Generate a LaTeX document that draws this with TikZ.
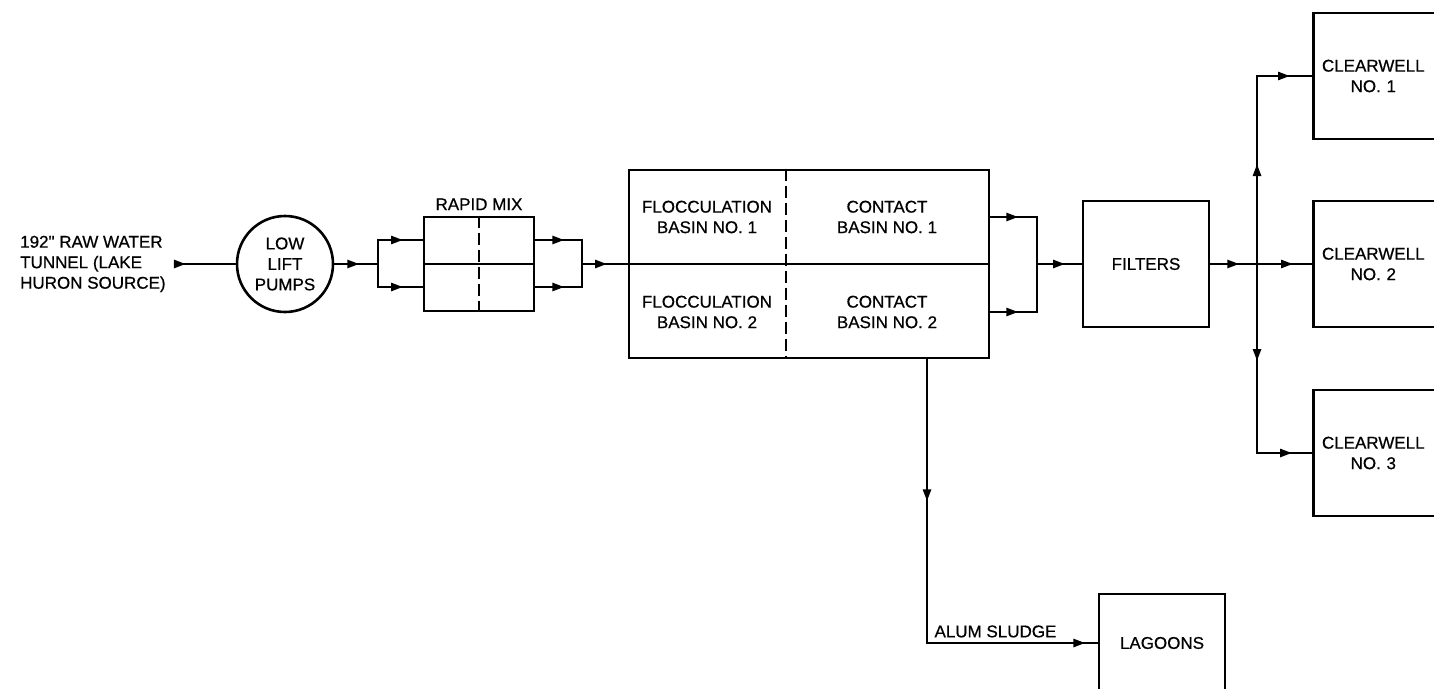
\documentclass[tikz,border=0pt]{standalone}
\usepackage{fontspec}
\setmainfont{Liberation Sans}[Ligatures=TeXOff, FakeBold=0.6]
\usetikzlibrary{arrows.meta, positioning, decorations.markings}

\tikzset{
  flowtip/.tip={Triangle[length=12pt, width=8pt]},
  unit/.style={draw, line width=2.6pt, inner sep=0pt, align=center},
  wellbox/.style={draw, line width=2.6pt, minimum height=126pt, text width=150pt, inner xsep=0pt, align=left, anchor=west},
  divider/.style={line width=2.6pt},
  dashline/.style={line width=2.2pt, dash pattern=on 12pt off 5pt},
  flow/.style={line width=2.6pt, postaction={decorate},
    decoration={markings, mark=at position #1 with {\arrow{flowtip}}}},
  twoflow/.style 2 args={line width=2.6pt, postaction={decorate},
    decoration={markings, mark=at position #1 with {\arrow{flowtip}},
      mark=at position #2 with {\arrow{flowtip}}}},
}

\begin{document}
\begin{tikzpicture}[x=1pt, y=-1pt, font=\fontsize{17}{20.5}\selectfont]
    \useasboundingbox (0,0) rectangle (1434,688);
    \clip (0,0) rectangle (1434,688);

    \node[anchor=west, align=left, inner xsep=8pt] (tunnel) at (12,264) {192" RAW WATER\\TUNNEL (LAKE\\HURON SOURCE)};
    \node[unit, circle, minimum size=96pt] (pumps) at (285,264) {LOW\\LIFT\\PUMPS};
    \node[unit, minimum width=110pt, minimum height=94pt] (mix) at (479,264) {};
    \node[above=2pt of mix] (mixlabel) {RAPID MIX};
    \node[unit, minimum width=360pt, minimum height=188pt] (basin) at (809,264) {};
    \node[align=center] (floc1) at (707,217) {FLOCCULATION\\BASIN NO. 1};
    \node[align=center] (contact1) at (887,217) {CONTACT\\BASIN NO. 1};
    \node[align=center] (floc2) at (707,312) {FLOCCULATION\\BASIN NO. 2};
    \node[align=center] (contact2) at (887,312) {CONTACT\\BASIN NO. 2};
    \node[unit, minimum size=126pt] (filters) at (1146,264) {FILTERS};
    \node[wellbox] (well1) at (1312,76) {\parbox{120pt}{\centering CLEARWELL\\NO. 1}};
    \node[wellbox] (well2) at (1312,264) {\parbox{120pt}{\centering CLEARWELL\\NO. 2}};
    \node[wellbox] (well3) at (1312,453) {\parbox{120pt}{\centering CLEARWELL\\NO. 3}};
    \node[unit, minimum width=126pt, minimum height=98pt] (lagoons) at (1162,643) {LAGOONS};

    \draw[divider] (mix.west) -- (mix.east);
    \draw[dashline] (mix.north) -- (mix.south);
    \draw[divider] (basin.west) -- (basin.east);
    \draw[dashline] ([xshift=-23pt]basin.north) -- ([xshift=-23pt]basin.south);

    \coordinate (split1) at (378,264);
    \coordinate (join1) at (582,264);
    \coordinate (join2) at (1037,264);
    \coordinate (split2) at (1257,264);
    \coordinate (drain) at ([xshift=118pt]basin.south);
    \coordinate (bend) at (drain |- lagoons.west);

    \draw[flow=12pt] (tunnel.east) -- (pumps.west);
    \draw[flow=25pt] (pumps.east) -- (split1);
    \draw[flow=49pt] (split1) |- ([yshift=24pt]mix.west);
    \draw[flow=48pt] (split1) |- ([yshift=-23pt]mix.west);
    \draw[flow=29pt] ([yshift=24pt]mix.east) -| (join1);
    \draw[flow=29pt] ([yshift=-23pt]mix.east) -| (join1);
    \draw[flow=25pt] (join1) -- (basin.west);
    \draw[flow=28pt] ([yshift=47pt]basin.east) -| (join2);
    \draw[flow=28pt] ([yshift=-48pt]basin.east) -| (join2);
    \draw[flow=28pt] (join2) -- (filters.west);
    \draw[flow=29pt] (filters.east) -- (split2);
    \draw[flow=36pt] (split2) -- (well2.west);
    \draw[twoflow={100pt}{221pt}] (split2) |- (well1.west);
    \draw[twoflow={97pt}{224pt}] (split2) |- (well3.west);
    \draw[twoflow={142pt}{442pt}] (drain) -- (bend) -- (lagoons.west);
    \node[above right=2pt and 4pt of bend] (sludge) {ALUM SLUDGE};
\end{tikzpicture}
\end{document}
